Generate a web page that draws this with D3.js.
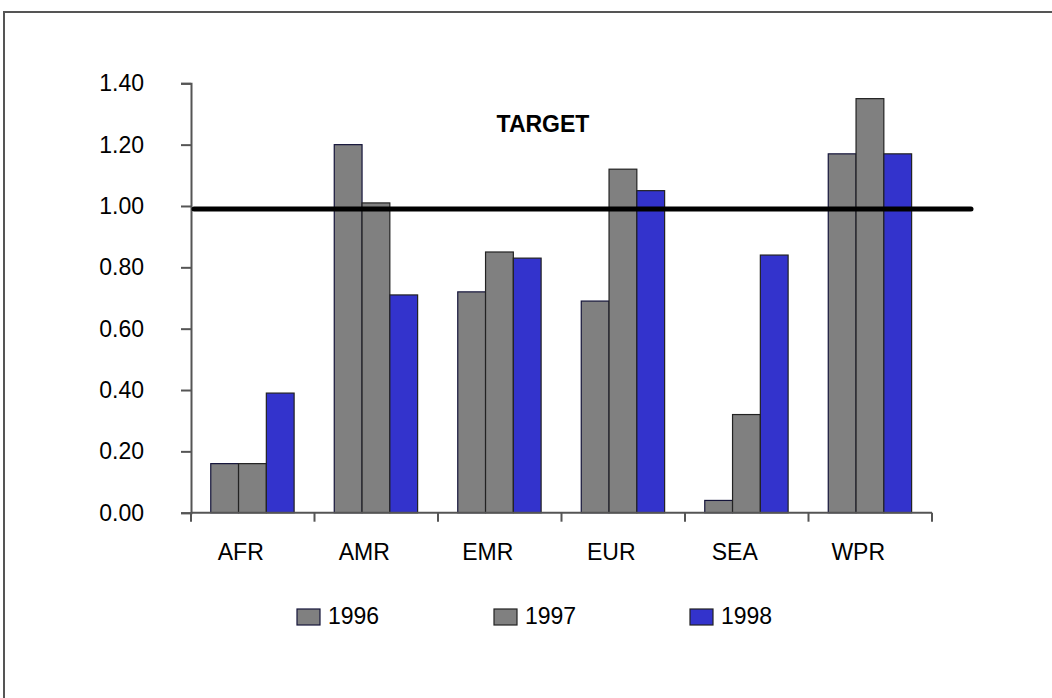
<!DOCTYPE html>
<html>
<head>
<meta charset="utf-8">
<script src="https://cdn.jsdelivr.net/npm/d3@7"></script>
<style>
  html, body { margin: 0; padding: 0; background: #fff; }
  svg { display: block; }
  text { font-family: "Liberation Sans", Arial, sans-serif; fill: #000; }
</style>
</head>
<body>
<svg id="chart" width="1052" height="698"></svg>
<script>
// Regions and yearly values
const regions = ["AFR", "AMR", "EMR", "EUR", "SEA", "WPR"];
const years = ["1996", "1997", "1998"];
const values1996 = [0.16, 1.20, 0.72, 0.69, 0.04, 1.17];
const values1997 = [0.16, 1.01, 0.85, 1.12, 0.32, 1.35];
const values1998 = [0.39, 0.71, 0.83, 1.05, 0.84, 1.17];
const yTicks = [0, 0.2, 0.4, 0.6, 0.8, 1.0, 1.2, 1.4];
const targetValue = 0.99;
const targetLabel = "TARGET";

const seriesValues = { "1996": values1996, "1997": values1997, "1998": values1998 };
const colors = { "1996": "#808080", "1997": "#808080", "1998": "#3333cc" };
const strokes = { "1996": "#14143a", "1997": "#222222", "1998": "#222222" };

const svg = d3.select("#chart");

// Outer frame
svg.append("rect")
  .attr("x", 4).attr("y", 12)
  .attr("width", 1100).attr("height", 720)
  .attr("fill", "none").attr("stroke", "#555").attr("stroke-width", 2);

const x0 = d3.scaleBand().domain(regions).range([191, 932]).padding(0);
const x1 = d3.scaleBand().domain(years)
  .range([x0.bandwidth() * 0.16, x0.bandwidth() * 0.835]).padding(0);
const y = d3.scaleLinear().domain([0, 1.4]).range([512.7, 83.3]);

// Bars
const rows = regions.map((r, i) => ({ region: r, vals: years.map(yr => ({ year: yr, v: seriesValues[yr][i] })) }));
const groups = svg.append("g").selectAll("g").data(rows).join("g")
  .attr("transform", d => `translate(${x0(d.region)},0)`);
groups.selectAll("rect").data(d => d.vals).join("rect")
  .attr("x", d => x1(d.year))
  .attr("y", d => y(d.v))
  .attr("width", x1.bandwidth())
  .attr("height", d => y(0) - y(d.v))
  .attr("fill", d => colors[d.year])
  .attr("stroke", d => strokes[d.year])
  .attr("stroke-width", 1.2);

// Y axis
const yAxis = d3.axisLeft(y).tickValues(yTicks).tickFormat(d3.format(".2f"))
  .tickSize(10).tickPadding(37);
const gy = svg.append("g").attr("transform", `translate(${x0.range()[0]},0)`).call(yAxis);
gy.select(".domain").attr("stroke", "#555").attr("stroke-width", 2);
gy.selectAll(".tick line").attr("stroke", "#555").attr("stroke-width", 2);
gy.selectAll(".tick text").attr("font-size", 23)
  .attr("font-family", "Liberation Sans, Arial, sans-serif").attr("fill", "#000");

// X axis with ticks on category boundaries
const gx = svg.append("g").attr("transform", `translate(0,${y(0)})`);
gx.append("line")
  .attr("x1", x0.range()[0]).attr("x2", x0.range()[1])
  .attr("stroke", "#555").attr("stroke-width", 2);
const boundaries = regions.map(r => x0(r)).concat([x0.range()[1]]);
gx.selectAll("line.tk").data(boundaries).join("line").attr("class", "tk")
  .attr("x1", d => d).attr("x2", d => d).attr("y1", 0).attr("y2", 9)
  .attr("stroke", "#555").attr("stroke-width", 2);
gx.selectAll("text").data(regions).join("text")
  .attr("x", d => x0(d) + x0.bandwidth() / 2 - 12)
  .attr("y", 47)
  .attr("text-anchor", "middle")
  .attr("font-size", 23)
  .text(d => d);

// Target line and label
svg.append("line")
  .attr("x1", x0.range()[0] + 3).attr("x2", x0.range()[1] + 39)
  .attr("y1", y(targetValue)).attr("y2", y(targetValue))
  .attr("stroke", "#000").attr("stroke-width", 5).attr("stroke-linecap", "round");
svg.append("text")
  .attr("x", x0("EMR") + x0.bandwidth() * 0.85)
  .attr("y", y(1.241))
  .attr("text-anchor", "middle")
  .attr("font-size", 23).attr("font-weight", "bold")
  .text(targetLabel);

// Legend
const legendX = [297, 494, 690];
const legend = svg.append("g").selectAll("g").data(years).join("g")
  .attr("transform", (d, i) => `translate(${legendX[i]},609)`);
legend.append("rect")
  .attr("width", 23).attr("height", 16)
  .attr("fill", d => colors[d]).attr("stroke", d => strokes[d]).attr("stroke-width", 1.2);
legend.append("text")
  .attr("x", 31).attr("y", 15)
  .attr("font-size", 23)
  .text(d => d);
</script>
</body>
</html>
